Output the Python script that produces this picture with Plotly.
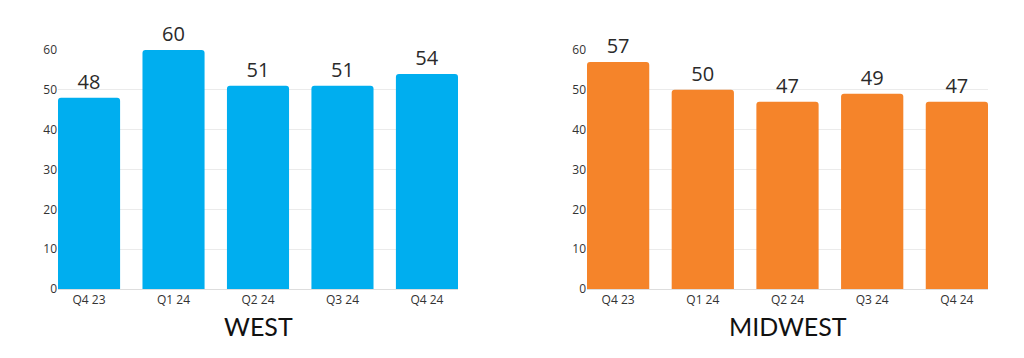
import plotly.graph_objects as go

categories = ["Q4 23", "Q1 24", "Q2 24", "Q3 24", "Q4 24"]
west_values = [48, 60, 51, 51, 54]
midwest_values = [57, 50, 47, 49, 47]
titles = ["WEST", "MIDWEST"]
colors = ["#00AEEF", "#F5842A"]

W, H = 1024, 358
OFF = 8  # page body margin


def px(sx):
    return (sx - OFF) / W


def py(sy):
    return (H - (sy - OFF)) / H


fig = go.Figure()

panels = [
    (west_values, "x", "y"),
    (midwest_values, "x2", "y2"),
]
for i, (vals, xa, ya) in enumerate(panels):
    fig.add_trace(go.Bar(
        x=categories, y=vals, xaxis=xa, yaxis=ya,
        marker=dict(color=colors[i], cornerradius=3, line=dict(width=0)),
        text=[str(v) for v in vals], textposition="outside",
        textfont=dict(family="Open Sans", size=20, color="#2a2a2a"),
        cliponaxis=False, showlegend=False, hoverinfo="x+y",
    ))

y_dom = [py(289), py(50)]
axis_common_x = dict(type="category", range=[-0.3675, 4.3675], showgrid=False,
                     showline=True, linecolor="#dddddd", linewidth=1,
                     tickfont=dict(family="Open Sans", size=12, color="#333333"),
                     ticks="", ticklen=0, automargin=False)
axis_common_y = dict(range=[0, 60], dtick=10, showgrid=True, gridcolor="#ebebeb",
                     zeroline=False, showline=False,
                     tickfont=dict(family="Open Sans", size=12, color="#333333"),
                     ticks="", domain=y_dom, automargin=False)

fig.update_layout(
    width=W, height=H,
    margin=dict(l=0, r=0, t=0, b=0),
    paper_bgcolor="white", plot_bgcolor="white",
    bargap=0.265,
    xaxis=dict(domain=[px(58), px(458)], anchor="y", **axis_common_x),
    yaxis=dict(anchor="x", **axis_common_y),
    xaxis2=dict(domain=[px(587), px(988)], anchor="y2", **axis_common_x),
    yaxis2=dict(anchor="x2", **axis_common_y),
)

for t, cx in zip(titles, [258, 788]):
    fig.add_annotation(text=t, x=px(cx), y=py(326), xref="paper", yref="paper",
                       xanchor="center", yanchor="middle",
                       showarrow=False, font=dict(family="Lato", size=25, color="#111111"))

fig.write_html("out.html")
